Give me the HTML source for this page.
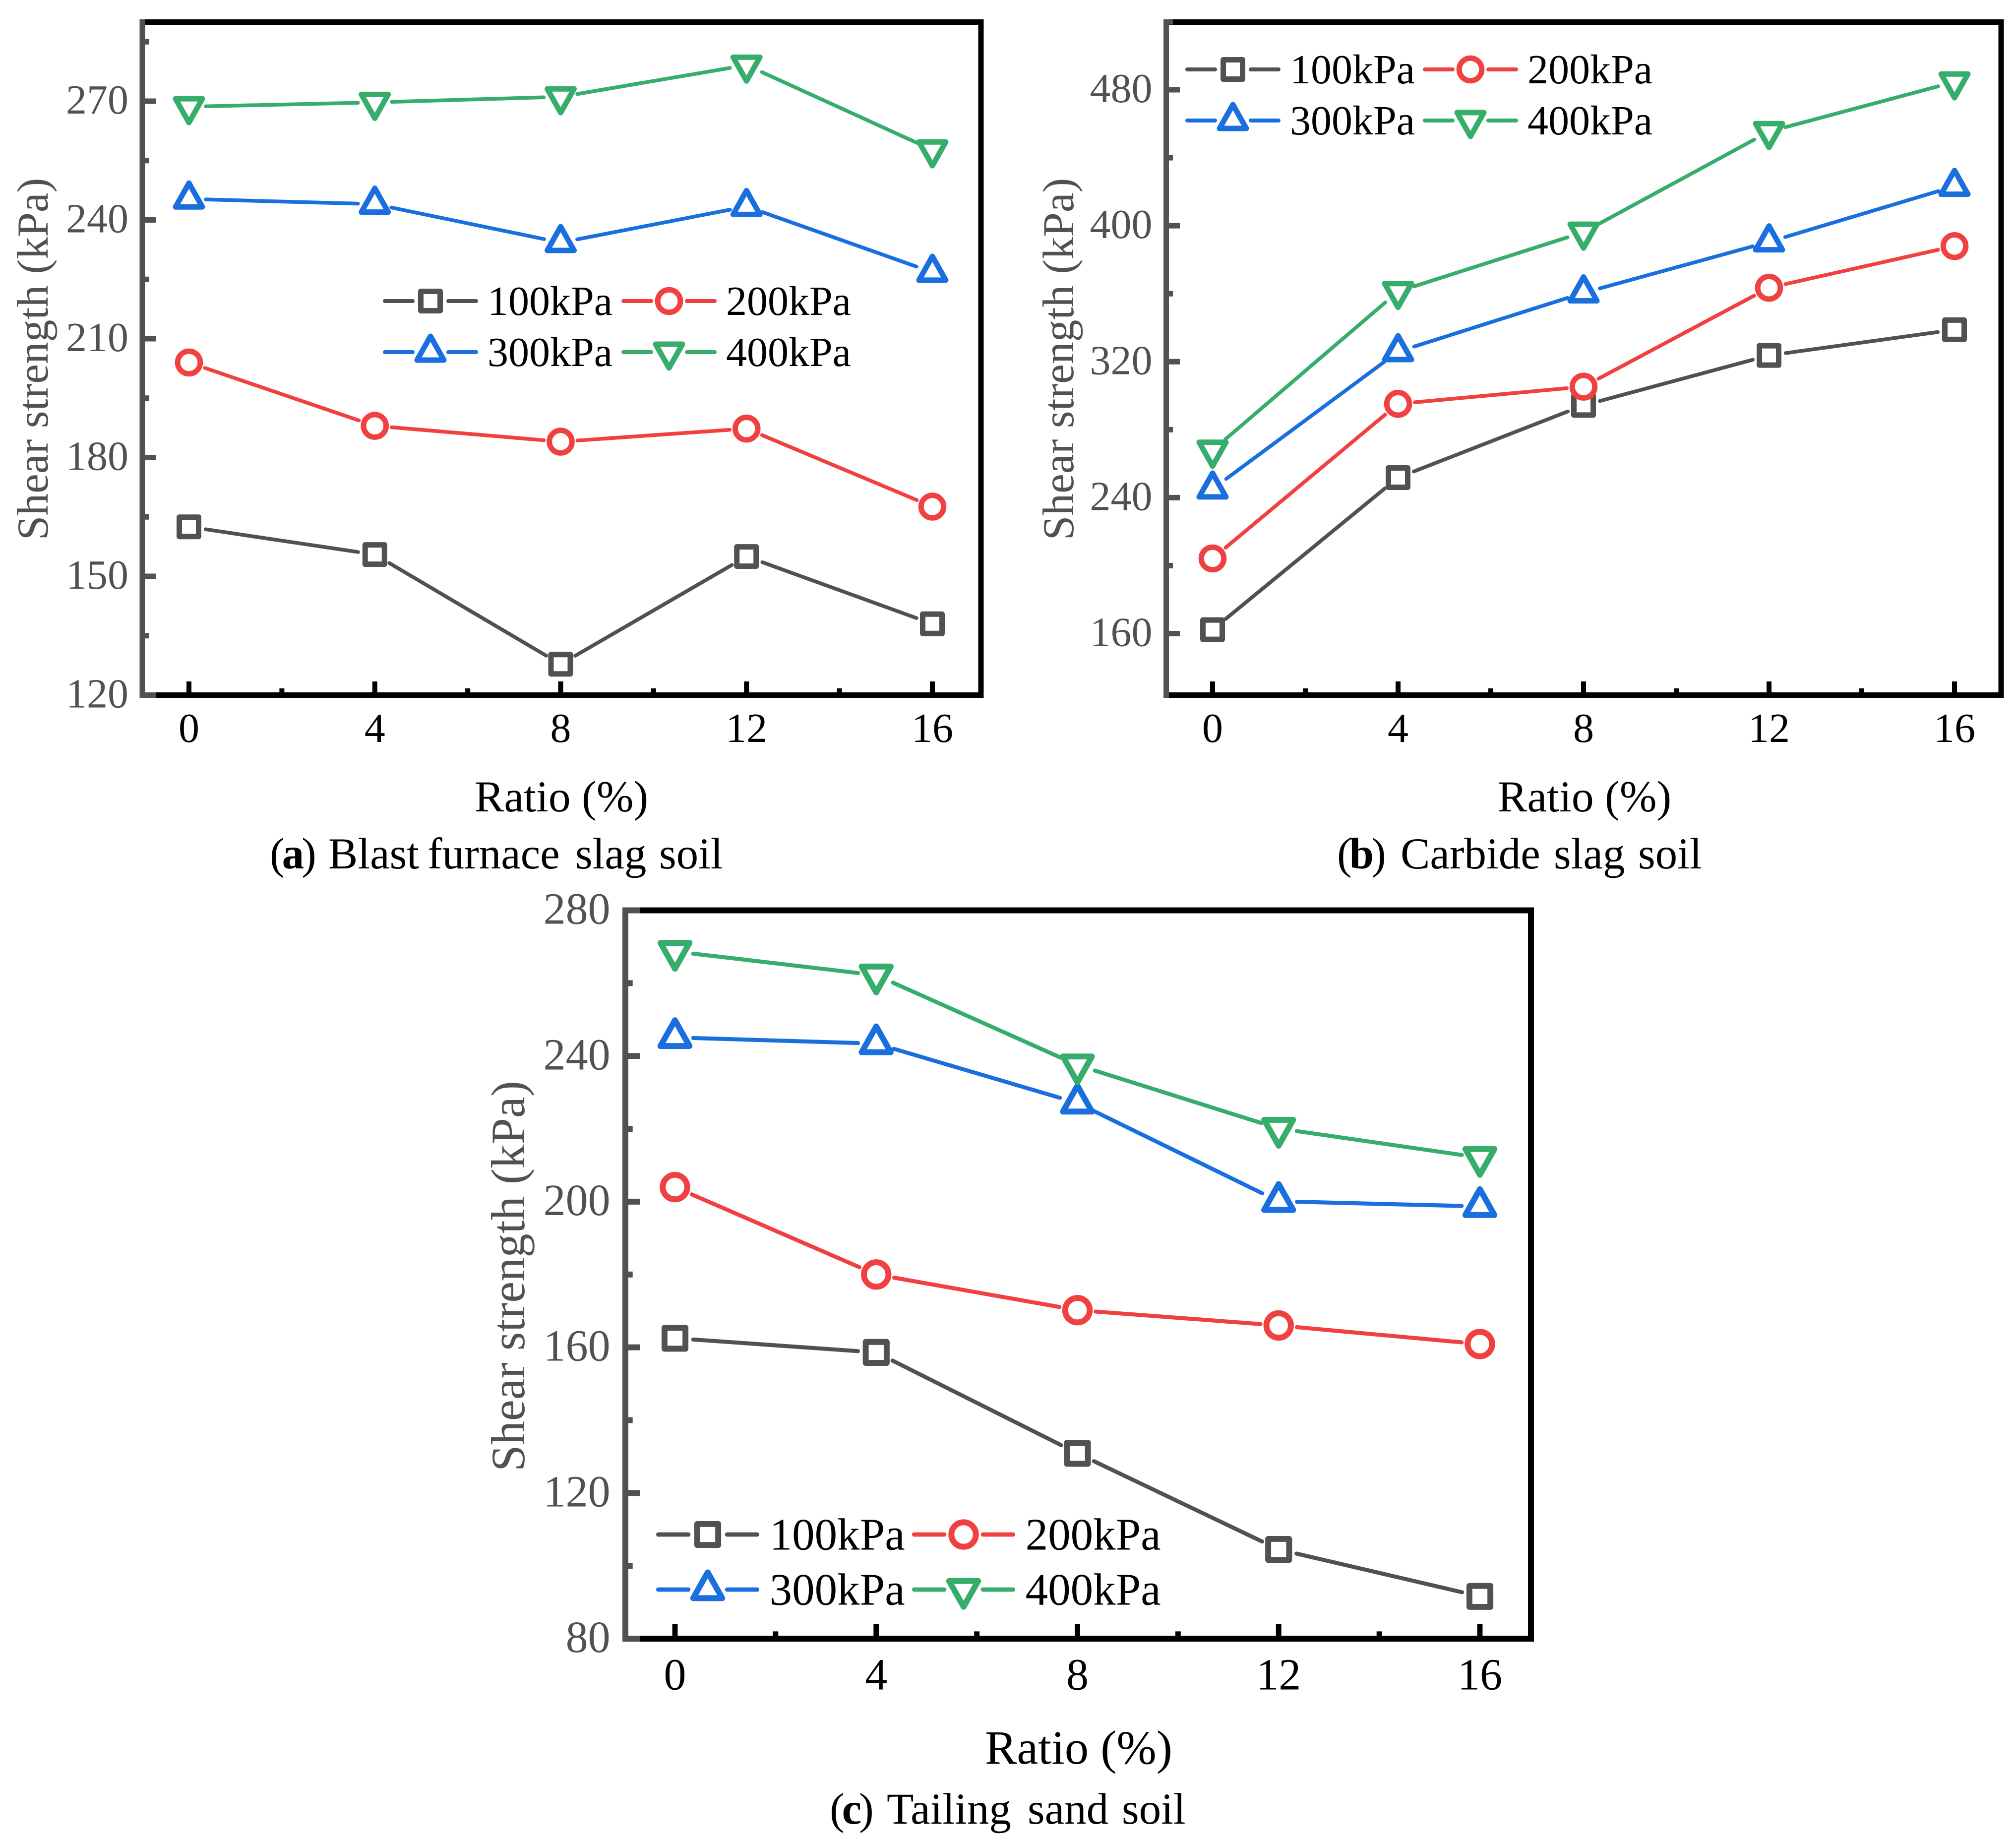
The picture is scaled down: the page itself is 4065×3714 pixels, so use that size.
<!DOCTYPE html>
<html lang="en">
<head>
<meta charset="utf-8">
<title>Shear strength vs ratio for three soils</title>
<style>
html,body{margin:0;padding:0;background:#fff;width:4065px;height:3714px;overflow:hidden}
svg{display:block}
text{font-family:"Liberation Serif","Times New Roman",serif}
</style>
</head>
<body>
<svg id="figure" xmlns="http://www.w3.org/2000/svg" width="4065" height="3714" viewBox="0 0 4065 3714">
<rect x="0" y="0" width="4065" height="3714" fill="#ffffff"/>
</svg>
<script>
// ---- shared data ----
const ratios = [0, 4, 8, 12, 16];
const xMajorTicks = [0, 4, 8, 12, 16];
const xMinorTicks = [2, 6, 10, 14];
const seriesNames = ['100kPa', '200kPa', '300kPa', '400kPa'];

// ---- panel (a) blast furnace slag soil ----
const a100 = [162.5, 155.5, 127.8, 155, 138];
const a200 = [204, 188, 184, 187.3, 167.6];
const a300 = [245.3, 244, 234.3, 243.4, 226.8];
const a400 = [268.6, 269.7, 271.1, 279.1, 257.7];
const aTicks = [120, 150, 180, 210, 240, 270];
const aMinorTicks = [135, 165, 195, 225, 255, 285];

// ---- panel (b) carbide slag soil ----
const b100 = [162.3, 251.8, 294.3, 323.7, 338.8];
const b200 = [204.2, 295.2, 305.3, 363.5, 388];
const b300 = [245.1, 325.9, 360.5, 390.5, 423.2];
const b400 = [267.9, 361.3, 396.2, 455.4, 484.6];
const bTicks = [160, 240, 320, 400, 480];
const bMinorTicks = [200, 280, 360, 440, 520];

// ---- panel (c) tailing sand soil ----
const c100 = [162.5, 158.6, 130.9, 104.5, 91.6];
const c200 = [204, 180, 170.2, 166, 160.9];
const c300 = [245.1, 243.4, 227.1, 200.1, 198.7];
const c400 = [268.7, 262.2, 237.5, 220.1, 212.1];
const cTicks = [80, 120, 160, 200, 240, 280];
const cMinorTicks = [100, 140, 180, 220, 260];

const COLORS = ['#515151', '#F14040', '#1A6FDF', '#37AD6B'];
const SHAPES = ['square', 'circle', 'up', 'down'];
const SVGNS = 'http://www.w3.org/2000/svg';
const root = document.getElementById('figure');

function make(parent, tag, name, attrs) {
  const el = document.createElementNS(SVGNS, tag);
  
  
  for (const k in attrs) el.setAttribute(k, attrs[k]);
  parent.appendChild(el);
  return el;
}
function label(parent, name, str, x, y, size, fill, anchor, extra) {
  const el = make(parent, 'text', name, Object.assign({x: x, y: y, 'font-size': size, fill: fill, 'text-anchor': anchor || 'start'}, extra || {}));
  el.textContent = str;
  return el;
}
function marker(parent, name, shape, x, y, color, s) {
  const sw = 11 * s;
  const style = {fill: '#ffffff', stroke: color, 'stroke-width': sw, 'stroke-linejoin': 'round'};
  if (shape === 'square') {
    make(parent, 'rect', name, Object.assign({x: x - 19.5 * s, y: y - 19.5 * s, width: 39 * s, height: 39 * s}, style));
  } else if (shape === 'circle') {
    make(parent, 'circle', name, Object.assign({cx: x, cy: y, r: 22.8 * s}, style));
  } else {
    const d = shape === 'up' ? 1 : -1;
    const pts = [[x, y - 32 * s * d], [x + 27 * s, y + 16 * s * d], [x - 27 * s, y + 16 * s * d]];
    make(parent, 'polygon', name, Object.assign({points: pts.map(p => p.join(',')).join(' ')}, style));
  }
}

function drawPanel(p) {
  const g = make(root, 'g', p.key + '-chart', {});
  const s = p.scale;
  const xs = v => p.x0 + (v - 0) * (p.x16 - p.x0) / 16;
  const ys = v => p.yLowPx + (v - p.yLowVal) * (p.yHighPx - p.yLowPx) / (p.yHighVal - p.yLowVal);
  const thick = 11 * s, half = thick / 2;

  // frame
  make(g, 'rect', p.key + '-frame-top', {x: p.l, y: p.t - half, width: p.r - p.l + half, height: thick, fill: '#000'});
  make(g, 'rect', p.key + '-frame-right', {x: p.r - half, y: p.t - half, width: thick, height: p.b - p.t + thick, fill: '#000'});
  make(g, 'rect', p.key + '-x-axis', {x: p.l, y: p.b - half, width: p.r - p.l + half, height: thick, fill: '#000'});

  // x ticks
  xMajorTicks.forEach(v => {
    make(g, 'rect', p.key + '-x-tick-' + v, {x: xs(v) - 5 * s, y: p.b - half - 22 * s, width: 10 * s, height: 22 * s, fill: '#000'});
    label(g, p.key + '-x-tick-label-' + v, String(v), xs(v), p.b + 94.5 * s, p.tickFont, '#000', 'middle');
  });
  xMinorTicks.forEach(v => {
    make(g, 'rect', p.key + '-x-minor-tick-' + v, {x: xs(v) - 5 * s, y: p.b - half - 8 * s, width: 10 * s, height: 8 * s, fill: '#000'});
  });

  // y axis (gray, on top)
  make(g, 'rect', p.key + '-y-axis', {x: p.l - half, y: p.t - half, width: thick, height: p.b - p.t + thick, fill: '#515151'});
  p.ticks.forEach(v => {
    make(g, 'rect', p.key + '-y-tick-' + v, {x: p.l + half - 1, y: ys(v) - half, width: 23 * s, height: thick, fill: '#515151'});
    label(g, p.key + '-y-tick-label-' + v, String(v), p.l - 28 * s, ys(v) + 25 * s, p.tickFont, '#515151', 'end');
  });
  p.minor.forEach(v => {
    make(g, 'rect', p.key + '-y-minor-tick-' + v, {x: p.l + half - 1, y: ys(v) - half, width: 9 * s, height: thick, fill: '#515151'});
  });

  // axis titles
  label(g, p.key + '-y-axis-title', 'Shear strength (kPa)', p.yTitleX, p.yTitleY, p.titleFont, '#515151', 'middle', {transform: 'rotate(-90 ' + p.yTitleX + ' ' + p.yTitleY + ')'});
  label(g, p.key + '-x-axis-title', 'Ratio (%)', p.xTitleX, p.xTitleY, p.titleFont, '#000', 'middle');

  // series
  p.series.forEach((vals, i) => {
    const sg = make(g, 'g', p.key + '-series-' + seriesNames[i], {});
    const gap = 34 * s;
    for (let k = 0; k < vals.length - 1; k++) {
      const x1 = xs(ratios[k]), y1 = ys(vals[k]), x2 = xs(ratios[k + 1]), y2 = ys(vals[k + 1]);
      const len = Math.hypot(x2 - x1, y2 - y1);
      if (len <= 2 * gap) continue;
      const ux = (x2 - x1) / len, uy = (y2 - y1) / len;
      make(sg, 'line', p.key + '-line-' + seriesNames[i] + '-' + k, {
        x1: x1 + ux * gap, y1: y1 + uy * gap, x2: x2 - ux * gap, y2: y2 - uy * gap,
        stroke: COLORS[i], 'stroke-width': 7.5 * s, 'stroke-linecap': 'round'
      });
    }
    vals.forEach((v, k) => {
      marker(sg, p.key + '-point-' + seriesNames[i] + '-' + ratios[k], SHAPES[i], xs(ratios[k]), ys(v), COLORS[i], s);
    });
  });

  // legend
  const lg = make(g, 'g', p.key + '-legend', {});
  seriesNames.forEach((n, i) => {
    const cx = p.legX[i % 2], cy = p.legY[Math.floor(i / 2)];
    const e = make(lg, 'g', p.key + '-legend-entry-' + n, {});
    [[-96, -32], [32, 96]].forEach((seg, j) => {
      make(e, 'line', p.key + '-legend-line-' + n + '-' + j, {
        x1: cx + (seg[0] + 4) * s, y1: cy, x2: cx + (seg[1] - 4) * s, y2: cy,
        stroke: COLORS[i], 'stroke-width': 8 * s, 'stroke-linecap': 'round'
      });
    });
    marker(e, p.key + '-legend-marker-' + n, SHAPES[i], cx, cy, COLORS[i], s);
    label(e, p.key + '-legend-label-' + n, n, cx + 115 * s, cy + 28 * s, p.legFont, '#000', 'start');
  });

  // caption
  const cap = make(g, 'text', p.key + '-caption', {x: p.capX, y: p.capY, 'font-size': 89, fill: '#000'});
  const t1 = document.createElementNS(SVGNS, 'tspan');
  t1.setAttribute('letter-spacing', '-5');
  t1.textContent = '(';
  const t2 = document.createElementNS(SVGNS, 'tspan');
  t2.setAttribute('font-weight', 'bold');
  t2.setAttribute('letter-spacing', '-5');
  t2.textContent = p.letter;
  const t3 = document.createElementNS(SVGNS, 'tspan');
  t3.textContent = ') ';
  cap.appendChild(t1); cap.appendChild(t2); cap.appendChild(t3);
  p.capWords.forEach(w => {
    const t = document.createElementNS(SVGNS, 'tspan');
    t.setAttribute('x', w[1]);
    t.textContent = w[0] + ' ';
    cap.appendChild(t);
  });
}

drawPanel({
  key: 'panel-a', letter: 'a', scale: 1,
  capWords: [['Blast', 662], ['furnace', 862], ['slag', 1160], ['soil', 1329]],
  l: 287, r: 1978, t: 44.5, b: 1401.5, x0: 381, x16: 1880,
  yLowVal: 120, yLowPx: 1401.5, yHighVal: 270, yHighPx: 204,
  ticks: aTicks, minor: aMinorTicks, series: [a100, a200, a300, a400],
  tickFont: 84, titleFont: 89.5, legFont: 84,
  yTitleX: 96, yTitleY: 724, xTitleX: 1132, xTitleY: 1636,
  legX: [868, 1349], legY: [607, 710], capX: 544, capY: 1751
});
drawPanel({
  key: 'panel-b', letter: 'b', scale: 1,
  capWords: [['Carbide', 2824], ['slag', 3133], ['soil', 3303]],
  l: 2351.5, r: 4035, t: 44.5, b: 1401.5, x0: 2445, x16: 3941,
  yLowVal: 160, yLowPx: 1277.5, yHighVal: 480, yHighPx: 181,
  ticks: bTicks, minor: bMinorTicks, series: [b100, b200, b300, b400],
  tickFont: 84, titleFont: 89.5, legFont: 84,
  yTitleX: 2164, yTitleY: 724, xTitleX: 3195, xTitleY: 1636,
  legX: [2486, 2965], legY: [140, 243], capX: 2696, capY: 1751
});
drawPanel({
  key: 'panel-c', letter: 'c', scale: 1.084,
  capWords: [['Tailing', 1788], ['sand', 2072], ['soil', 2262]],
  l: 1261, r: 3087, t: 1835.5, b: 3304, x0: 1361, x16: 2984,
  yLowVal: 80, yLowPx: 3304, yHighVal: 280, yHighPx: 1835.5,
  ticks: cTicks, minor: cMinorTicks, series: [c100, c200, c300, c400],
  tickFont: 90, titleFont: 96.5, legFont: 91,
  yTitleX: 1057, yTitleY: 2573, xTitleX: 2175, xTitleY: 3556,
  legX: [1427, 1943], legY: [3094, 3205], capX: 1673, capY: 3677
});
</script>
</body>
</html>
